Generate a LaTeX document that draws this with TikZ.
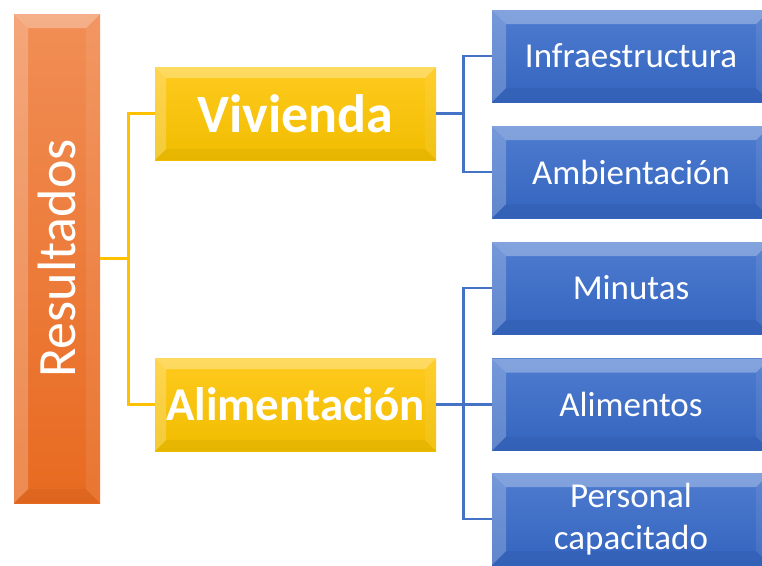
\documentclass[tikz,border=0pt]{standalone}
\usepackage{fontspec}
\setmainfont{Carlito}
\usetikzlibrary{positioning}
\definecolor{naranjaA}{RGB}{241,142,86}
\definecolor{naranjaB}{RGB}{232,106,32}
\definecolor{amarilloA}{RGB}{255,202,30}
\definecolor{amarilloB}{RGB}{240,189,0}
\definecolor{azulA}{RGB}{78,124,208}
\definecolor{azulB}{RGB}{52,100,190}
\definecolor{lineaY}{RGB}{255,192,0}
\definecolor{lineaB}{RGB}{68,114,196}

\tikzset{
  bevel/.style={path picture={
    \path (path picture bounding box.north west) coordinate (pnw)
          (path picture bounding box.north east) coordinate (pne)
          (path picture bounding box.south west) coordinate (psw)
          (path picture bounding box.south east) coordinate (pse);
    \fill[white,opacity=.30] (pnw) -- (pne) -- ([shift={(-#1,-#1)}]pne) -- ([shift={(#1,-#1)}]pnw) -- cycle;
    \fill[white,opacity=.22] (pnw) -- (psw) -- ([shift={(#1,#1)}]psw) -- ([shift={(#1,-#1)}]pnw) -- cycle;
    \fill[black,opacity=.04] (psw) -- (pse) -- ([shift={(-#1,#1)}]pse) -- ([shift={(#1,#1)}]psw) -- cycle;
    \fill[white,opacity=.08] (pne) -- (pse) -- ([shift={(-#1,#1)}]pse) -- ([shift={(-#1,-#1)}]pne) -- cycle;
  }},
  resbox/.style={top color=naranjaA, bottom color=naranjaB, text=white, inner sep=0pt,
    minimum width=86pt, minimum height=489pt, bevel=14pt},
  ybox/.style={top color=amarilloA, bottom color=amarilloB, text=white, inner sep=0pt,
    minimum width=281pt, minimum height=93pt, bevel=11pt, font=\bfseries},
  bbox/.style={top color=azulA, bottom color=azulB, text=white, inner sep=0pt, align=center,
    minimum width=278pt, minimum height=92pt, bevel=14pt,
    font=\fontsize{35}{42}\selectfont},
  yline/.style={draw=lineaY, line width=2.6pt},
  bline/.style={draw=lineaB, line width=2.6pt},
}

\begin{document}
\begin{tikzpicture}[x=1pt, y=-1pt]
\useasboundingbox (0,0) rectangle (762,565);
\clip (0,0) rectangle (762,565);

% columna izquierda
\node[resbox] (res) at (57,258.5) {\fontsize{54}{60}\selectfont\rotatebox{90}{Resultados}};

% nivel 2
\node[ybox] (viv) at (295.5,113.5) {\fontsize{54}{60}\selectfont Vivienda};
\node[ybox] (ali) at (295.5,404.5) {\fontsize{47}{56}\selectfont Alimentación};

% nivel 3
\node[bbox] (infra) at (631,56) {Infraestructura};
\node[bbox] (amb) at (631,172) {Ambientación};
\node[bbox] (min) at (631,288) {Minutas};
\node[bbox] (alim) at (631,404.5) {Alimentos};
\node[bbox] (pers) at (631,519) {Personal\\capacitado};

% conectores
\path (res.east) ++(28,0) coordinate (yk);
\draw[yline] (res.east) -- (yk);
\draw[yline] (viv.west) -| (yk) |- (ali.west);
\path (viv.east) ++(27,0) coordinate (bk1);
\draw[bline] (viv.east) -- (bk1);
\draw[bline] (infra.west) -| (bk1) |- (amb.west);
\path (ali.east) ++(27,0) coordinate (bk2);
\draw[bline] (ali.east) -- (alim.west);
\draw[bline] (min.west) -| (bk2) |- (pers.west);
\end{tikzpicture}
\end{document}
